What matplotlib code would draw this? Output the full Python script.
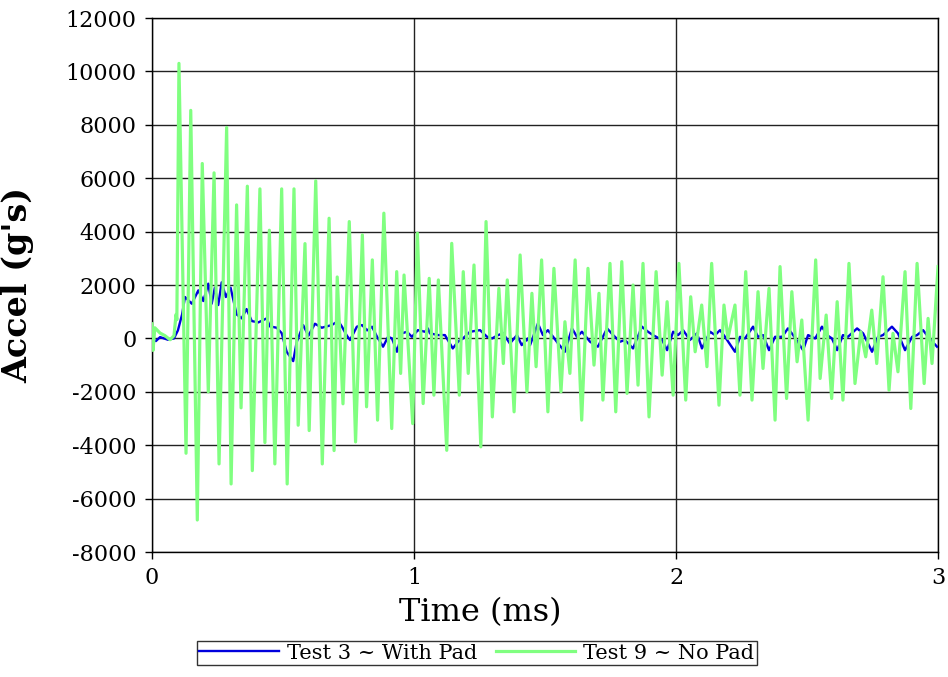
import matplotlib
matplotlib.use("Agg")
import matplotlib.pyplot as plt

# Test 9 ~ No Pad (green), peaks and troughs
t_nopad = [0.000, 0.004, 0.011, 0.031, 0.050, 0.069, 0.084, 0.092, 0.095, 0.103,
           0.130, 0.148, 0.173, 0.192, 0.215, 0.237, 0.256, 0.285, 0.302, 0.323,
           0.340, 0.364, 0.383, 0.412, 0.431, 0.448, 0.469, 0.495, 0.516, 0.542,
           0.558, 0.584, 0.600, 0.625, 0.650, 0.676, 0.695, 0.707, 0.729, 0.753,
           0.777, 0.803, 0.819, 0.841, 0.861, 0.885, 0.915, 0.934, 0.949, 0.962,
           0.995, 1.013, 1.035, 1.058, 1.076, 1.093, 1.125, 1.144, 1.173, 1.188,
           1.207, 1.229, 1.255, 1.275, 1.299, 1.324, 1.341, 1.356, 1.382, 1.405,
           1.431, 1.450, 1.466, 1.487, 1.511, 1.534, 1.561, 1.576, 1.595, 1.615,
           1.640, 1.664, 1.687, 1.706, 1.721, 1.748, 1.770, 1.793, 1.813, 1.836,
           1.855, 1.874, 1.897, 1.924, 1.947, 1.966, 1.989, 2.011, 2.037, 2.056,
           2.073, 2.098, 2.118, 2.136, 2.164, 2.183, 2.198, 2.225, 2.244, 2.266,
           2.290, 2.313, 2.332, 2.355, 2.378, 2.397, 2.422, 2.442, 2.462, 2.480,
           2.504, 2.533, 2.550, 2.573, 2.594, 2.615, 2.637, 2.660, 2.683, 2.705,
           2.724, 2.747, 2.766, 2.790, 2.813, 2.828, 2.847, 2.874, 2.896, 2.920,
           2.947, 2.962, 2.977, 3.000]
g_nopad = [550, -450, 400, 200, 100, -50, 100, 900, 700, 10300,
           -4300, 8540, -6800, 6550, -2000, 6200, -4700, 7900, -5450, 5000,
           -2600, 5700, -4950, 5600, -3900, 4050, -4700, 5600, -5450, 5600,
           -3250, 3550, -3450, 5900, -4700, 4500, -4200, 2300, -2450, 4375,
           -3875, 3875, -2560, 2940, -3060, 4690, -3375, 2500, -1310, 2375,
           -3190, 3940, -2440, 2250, -2125, 2190, -4190, 3560, -2125, 2500,
           -1310, 2750, -4060, 4375, -2940, 1875, -940, 2190, -2750, 3125,
           -2000, 1690, -1060, 2940, -2750, 2625, -2000, 625, -1310, 2940,
           -3060, 2625, -1000, 1690, -2310, 2810, -2750, 2875, -2060, 2000,
           -1750, 2810, -2940, 2500, -1375, 1375, -2125, 2810, -2310, 1560,
           -500, 1250, -1060, 2810, -2500, 1250, 0, 1250, -2125, 2500,
           -2310, 1750, -1125, 1875, -3060, 2690, -2250, 1750, -875, 690,
           -3060, 2940, -1500, 875, -2250, 1375, -2310, 2810, -1690, 250,
           -690, 1060, -940, 2310, -1940, 190, -1250, 2500, -2625, 2810,
           -1690, 750, -940, 2690]

# Test 3 ~ With Pad (blue)
t_pad = [0.000, 0.015, 0.031, 0.061, 0.084, 0.099, 0.115, 0.126, 0.152, 0.177,
         0.196, 0.215, 0.228, 0.240, 0.253, 0.266, 0.282, 0.300, 0.323, 0.342,
         0.361, 0.381, 0.406, 0.438, 0.450, 0.476, 0.495, 0.514, 0.539, 0.552,
         0.577, 0.597, 0.622, 0.648, 0.686, 0.711, 0.725, 0.744, 0.756, 0.782,
         0.802, 0.821, 0.840, 0.859, 0.882, 0.901, 0.916, 0.935, 0.954, 0.973,
         0.992, 1.015, 1.042, 1.053, 1.061, 1.092, 1.118, 1.148, 1.168, 1.187,
         1.214, 1.252, 1.279, 1.298, 1.321, 1.340, 1.366, 1.393, 1.411, 1.435,
         1.443, 1.473, 1.492, 1.511, 1.531, 1.550, 1.576, 1.603, 1.622, 1.641,
         1.672, 1.702, 1.737, 1.760, 1.786, 1.805, 1.836, 1.870, 1.893, 1.912,
         1.947, 1.966, 1.989, 2.008, 2.027, 2.053, 2.080, 2.099, 2.130, 2.149,
         2.168, 2.187, 2.195, 2.225, 2.244, 2.263, 2.294, 2.313, 2.332, 2.355,
         2.378, 2.405, 2.427, 2.447, 2.485, 2.504, 2.531, 2.557, 2.576, 2.595,
         2.615, 2.637, 2.656, 2.691, 2.714, 2.748, 2.771, 2.790, 2.824, 2.847,
         2.874, 2.901, 2.920, 2.943, 2.962, 2.996]
g_pad = [0, -100, 50, -50, 0, 300, 900, 1550, 1300, 1800,
         1400, 2050, 1300, 1900, 1250, 2100, 1550, 1900, 900, 750,
         1100, 650, 600, 750, 450, 400, 200, -500, -850, -150,
         500, 100, 550, 400, 500, 650, 440, 100, -60, 440,
         500, 300, 440, 60, -310, 60, 0, -500, 190, 250,
         60, 310, 250, 375, 190, 125, 125, -375, -125, 0,
         250, 310, 60, 0, 125, 190, -190, 125, -250, 0,
         -250, 560, 125, 310, 60, -190, -500, 375, 60, 250,
         -125, -310, 375, 125, -125, -60, -375, 440, 250, 125,
         -60, -440, 250, 125, 310, -60, 190, -375, 250, 125,
         310, 60, -60, -500, 60, 0, 440, 60, 125, -440,
         60, 60, 375, 125, -440, 125, 0, 440, 125, 0,
         -440, 125, 60, 375, 190, -500, 60, 125, 440, 190,
         -440, 60, 125, 310, 60, -310]

y_ticks = list(range(-8000, 12001, 2000))
x_ticks = [0, 1, 2, 3]

plt.rcParams['font.family'] = ['DejaVu Serif']
plt.rcParams['axes.unicode_minus'] = False

fig = plt.figure(figsize=(9.48, 6.77), dpi=100)
ax = fig.add_axes([0.1603, 0.1846, 0.8292, 0.7888])

ax.plot(t_pad, g_pad, color='#0000dd', lw=1.7, label='Test 3 ~ With Pad', zorder=3)
ax.plot(t_nopad, g_nopad, color='#80ff80', lw=2.3, label='Test 9 ~ No Pad', zorder=4)

ax.set_xlim(0, 3)
ax.set_ylim(-8000, 12000)
ax.set_xticks(x_ticks)
ax.set_yticks(y_ticks)
ax.grid(True, color='#222222', lw=1.0)
ax.set_axisbelow(True)
for s in ax.spines.values():
    s.set_color('black')
    s.set_linewidth(1.0)
ax.tick_params(direction='out', length=5, width=1, labelsize=16, pad=6)

ax.set_xlabel('Time (ms)', fontsize=23)
ax.xaxis.set_label_coords(0.417, -0.085)
ax.set_ylabel("Accel (g's)", fontsize=24, fontweight='bold')
ax.yaxis.set_label_coords(-0.15, 0.5)

leg = fig.legend(loc='lower center', bbox_to_anchor=(0.503, 0.002), ncol=2,
                 fontsize=15, frameon=True, fancybox=False, handlelength=3.8,
                 columnspacing=0.9, handletextpad=0.4, borderpad=0.12)
leg.get_frame().set_edgecolor('black')
leg.get_frame().set_linewidth(1.0)

fig.savefig('out.png', dpi=100)
